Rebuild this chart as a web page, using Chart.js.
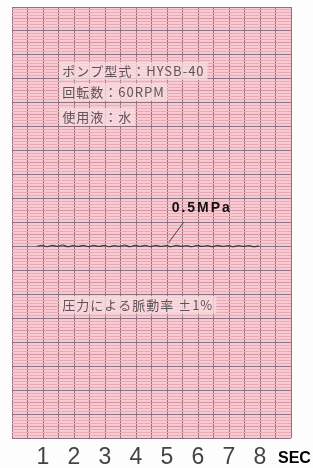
<!DOCTYPE html>
<html>
<head>
<meta charset="utf-8">
<script src="https://cdn.jsdelivr.net/npm/chart.js@4.4.1/dist/chart.umd.min.js"></script>
<style>
  html, body { margin: 0; padding: 0; background: #fdfdfd; }
  #c { display: block; }
</style>
</head>
<body>
<canvas id="c" width="313" height="468"></canvas>
<script>
// ---- data ----
const tickLabels = ['1', '2', '3', '4', '5', '6', '7', '8'];
const timeSec = [0.80,0.97,1.13,1.30,1.47,1.63,1.80,1.97,2.13,2.30,2.47,2.63,2.80,2.97,3.13,3.30,3.47,3.63,3.80,3.97,4.13,4.30,4.47,4.63,4.80,4.97,5.13,5.30,5.47,5.63,5.80,5.97,6.13,6.30,6.47,6.63,6.80,6.97,7.13,7.30,7.47,7.63,7.80,7.97];
const pressure = [8.00,8.05,7.99,8.05,8.00,8.06,7.99,8.04,8.00,8.05,7.99,8.05,8.00,8.05,7.99,8.04,8.00,8.06,7.99,8.05,8.00,8.05,7.99,8.05,8.00,8.04,7.99,8.05,8.00,8.04,7.99,8.05,8.00,8.04,7.99,8.05,8.00,8.04,7.99,8.04,8.00,8.04,7.99,8.03];
const infoLines = ['ポンプ型式：HYSB-40', '回転数：60RPM', '使用液：水'];
const infoY = [15.33, 14.45, 13.41];
const pressureLabel = '0.5MPa';
const rippleNote = '圧力による脈動率 ±1%';
const unitLabel = 'SEC';

const COL_BG = '#f6cbd1';
const COL_FINE = '#ecaab6';
const COL_HALF = '#dc93a2';
const COL_MAJOR = '#927080';

const annotate = {
  id: 'annotate',
  beforeDraw(chart) {
    const { ctx, chartArea: a } = chart;
    ctx.save();
    ctx.fillStyle = COL_BG;
    ctx.fillRect(a.left, a.top, a.right - a.left, a.bottom - a.top);
    ctx.restore();
  },
  beforeDatasetsDraw(chart) {
    const { ctx } = chart;
    const x = chart.scales.x, y = chart.scales.y;
    ctx.save();
    ctx.font = '13px "Noto Sans CJK JP", sans-serif';
    ctx.letterSpacing = '1px';
    ctx.textBaseline = 'middle';
    const pads = infoLines.map((t, i) => [t, infoY[i]]).concat([[rippleNote, 5.56]]);
    pads.forEach(([t, v]) => {
      const px = x.getPixelForValue(1.62), py = y.getPixelForValue(v);
      const w = ctx.measureText(t).width;
      ctx.fillStyle = 'rgba(248,222,224,0.75)';
      ctx.fillRect(px - 3, py - 9, w + 6, 18);
      ctx.fillStyle = '#5e5458';
      ctx.fillText(t, px, py);
    });
    // pressure label
    ctx.font = 'bold 14px "Liberation Sans", Arial, sans-serif';
    ctx.letterSpacing = '2px';
    ctx.fillStyle = '#111';
    ctx.fillText(pressureLabel, x.getPixelForValue(5.15), y.getPixelForValue(9.61));
    // leader line
    ctx.strokeStyle = '#444';
    ctx.lineWidth = 1;
    ctx.beginPath();
    ctx.moveTo(x.getPixelForValue(5.54), y.getPixelForValue(9.02));
    ctx.lineTo(x.getPixelForValue(5.05), y.getPixelForValue(8.15));
    ctx.stroke();
    ctx.restore();
  },
  afterDraw(chart) {
    const { ctx } = chart;
    const x = chart.scales.x;
    ctx.save();
    ctx.font = 'bold 16px "Liberation Sans", Arial, sans-serif';
    ctx.fillStyle = '#000';
    ctx.textBaseline = 'alphabetic';
    ctx.fillText(unitLabel, x.right - 13, 463);
    ctx.restore();
  }
};

new Chart(document.getElementById('c'), {
  type: 'line',
  data: {
    datasets: [{
      data: timeSec.map((t, i) => ({ x: t, y: pressure[i] })),
      borderColor: '#3a3a3a',
      borderWidth: 1.2,
      pointRadius: 0,
      tension: 0.3,
      fill: false
    }]
  },
  options: {
    responsive: false,
    animation: false,
    devicePixelRatio: 1,
    layout: { padding: { left: 12, right: 22, top: 7, bottom: 0 } },
    plugins: { legend: { display: false }, tooltip: { enabled: false } },
    scales: {
      x: {
        type: 'linear',
        min: 0, max: 9,
        afterFit: s => { s.height = 30; },
        border: { display: false },
        grid: { color: COL_MAJOR, lineWidth: 1, drawTicks: false },
        ticks: {
          stepSize: 0.5,
          autoSkip: false,
          maxRotation: 0,
          padding: 6,
          color: '#444',
          font: { family: '"Liberation Sans Narrow", "Liberation Sans", Arial, sans-serif', size: 23 },
          callback: v => (Number.isInteger(v) && v >= 1 && v <= tickLabels.length) ? tickLabels[v - 1] : ''
        }
      },
      y: {
        type: 'linear',
        min: 0, max: 18,
        afterFit: s => { s.width = 0; },
        border: { display: false },
        grid: {
          drawTicks: false,
          color: c => {
            const v = c.tick.value;
            if (Math.abs(v - Math.round(v)) < 1e-6) return COL_MAJOR;
            if (Math.abs(v * 2 - Math.round(v * 2)) < 1e-6) return COL_HALF;
            return COL_FINE;
          },
          lineWidth: 1
        },
        ticks: { display: false, stepSize: 0.125, autoSkip: false }
      }
    }
  },
  plugins: [annotate]
});
</script>
</body>
</html>
